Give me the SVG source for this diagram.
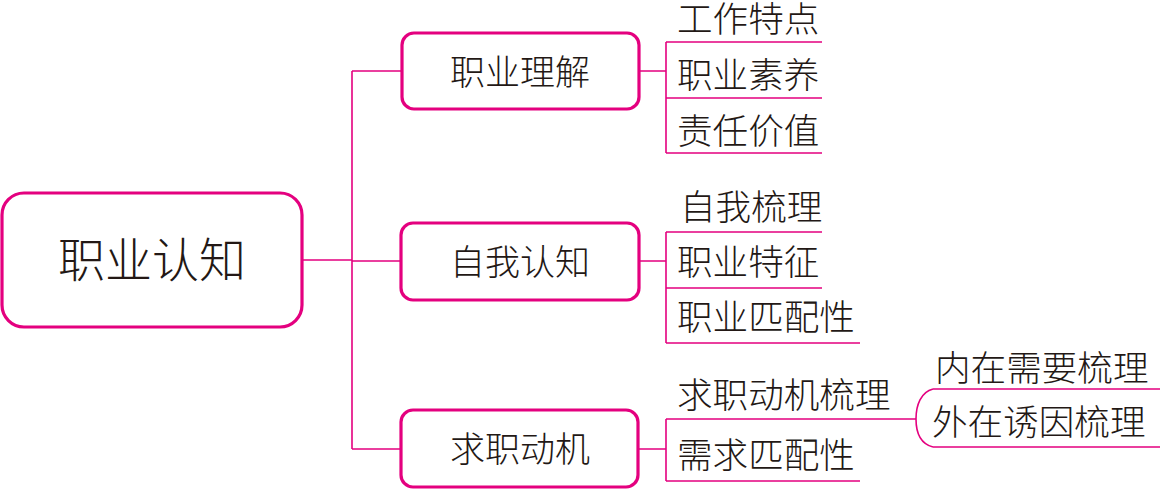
<svg xmlns="http://www.w3.org/2000/svg" width="1161" height="489" viewBox="0 0 1161 489">
<style>
.box{fill:#fff;stroke:#e4007f;stroke-width:3.2}
.ln{fill:none;stroke:#e4007f;stroke-width:1.6}
text{font-family:"Noto Sans CJK SC","Noto Sans CJK JP",sans-serif;fill:#231815;font-weight:300}
.t{font-size:35.6px}
.c{font-size:35px;text-anchor:middle}
.r{font-size:47px;text-anchor:middle}
</style>
<rect width="1161" height="489" fill="#fff"/>
<g id="connectors">
<path class="ln" d="M302,260 H352 M352,71 V449 M352,71 H402 M352,261 H401 M352,449 H401"/>
<path class="ln" d="M639,71 H666 M666,42 V153 M666,42 H822 M666,98 H822 M666,153 H822"/>
<path class="ln" d="M639,261 H666 M666,232 V343 M666,232 H822 M666,288 H822 M666,343 H860"/>
<path class="ln" d="M638,449 H666 M666,419 V481 M666,419 H916 M666,481 H860"/>
<path class="ln" d="M933,389 C921,392 916,405 916,419 C916,433 921,444 933,447 M933,389 H1160 M933,447 H1160"/>
</g>
<g id="root">
<rect class="box" x="2" y="193" width="300" height="134" rx="22"/>
<text class="r" x="152" y="277">职业认知</text>
</g>
<g id="n1">
<rect class="box" x="402" y="33" width="237" height="76" rx="12"/>
<text class="c" x="520" y="85">职业理解</text>
</g>
<g id="n1a"><text class="t" x="677" y="32">工作特点</text></g>
<g id="n1b"><text class="t" x="677" y="88">职业素养</text></g>
<g id="n1c"><text class="t" x="677" y="144">责任价值</text></g>
<g id="n2">
<rect class="box" x="401" y="223" width="238" height="77" rx="12"/>
<text class="c" x="520" y="275">自我认知</text>
</g>
<g id="n2a"><text class="t" x="680" y="220">自我梳理</text></g>
<g id="n2b"><text class="t" x="677" y="275">职业特征</text></g>
<g id="n2c"><text class="t" x="677" y="330">职业匹配性</text></g>
<g id="n3">
<rect class="box" x="401" y="410" width="237" height="77" rx="12"/>
<text class="c" x="520" y="462">求职动机</text>
</g>
<g id="n3a"><text class="t" x="677" y="408">求职动机梳理</text></g>
<g id="n3b"><text class="t" x="677" y="468">需求匹配性</text></g>
<g id="n3a1"><text class="t" x="935" y="381">内在需要梳理</text></g>
<g id="n3a2"><text class="t" x="932" y="435">外在诱因梳理</text></g>
</svg>
